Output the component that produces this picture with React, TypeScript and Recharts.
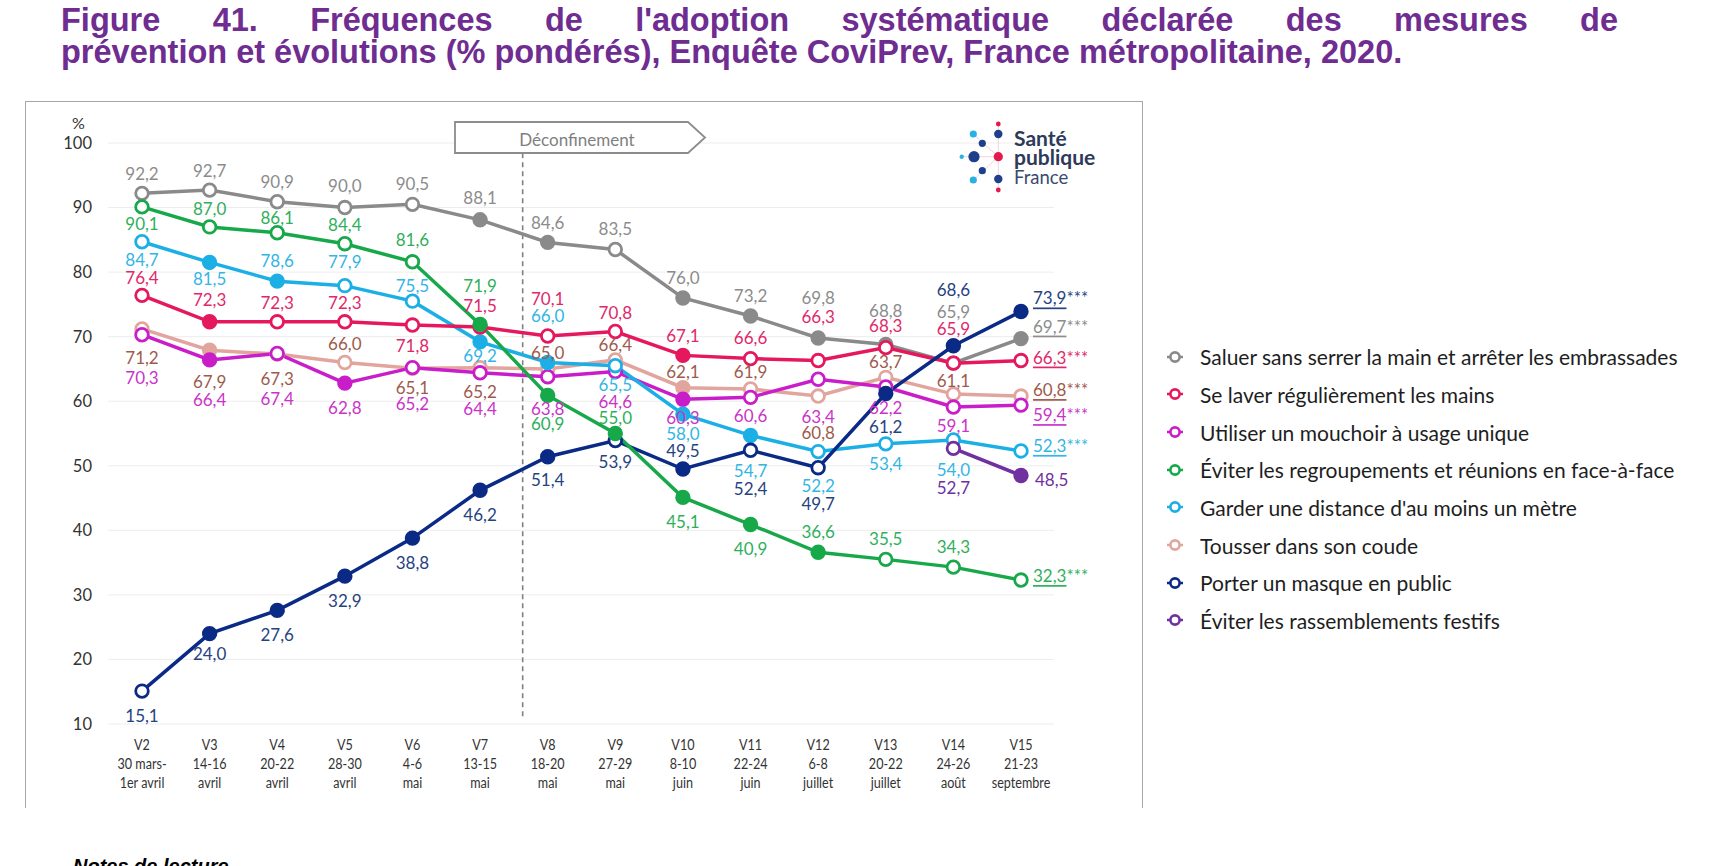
import React from "react";
import {
  LineChart,
  Line,
  XAxis,
  YAxis,
  CartesianGrid,
  ReferenceLine,
  LabelList,
} from "recharts";

// vagues de l'enquête
const weeks = ["V2", "V3", "V4", "V5", "V6", "V7", "V8", "V9", "V10", "V11", "V12", "V13", "V14", "V15"];
const dates1 = ["30 mars-", "14-16", "20-22", "28-30", "4-6", "13-15", "18-20", "27-29", "8-10", "22-24", "6-8", "20-22", "24-26", "21-23"];
const dates2 = ["1er avril", "avril", "avril", "avril", "mai", "mai", "mai", "mai", "juin", "juin", "juillet", "juillet", "août", "septembre"];
const yTicks = [10, 20, 30, 40, 50, 60, 70, 80, 90, 100];

// % pondérés
const saluer = [92.2, 92.7, 90.9, 90.0, 90.5, 88.1, 84.6, 83.5, 76.0, 73.2, 69.8, 68.8, 65.9, 69.7];
const laver = [76.4, 72.3, 72.3, 72.3, 71.8, 71.5, 70.1, 70.8, 67.1, 66.6, 66.3, 68.3, 65.9, 66.3];
const mouchoir = [70.3, 66.4, 67.4, 62.8, 65.2, 64.4, 63.8, 64.6, 60.3, 60.6, 63.4, 62.2, 59.1, 59.4];
const regroupements = [90.1, 87.0, 86.1, 84.4, 81.6, 71.9, 60.9, 55.0, 45.1, 40.9, 36.6, 35.5, 34.3, 32.3];
const distance = [84.7, 81.5, 78.6, 77.9, 75.5, 69.2, 66.0, 65.5, 58.0, 54.7, 52.2, 53.4, 54.0, 52.3];
const coude = [71.2, 67.9, 67.3, 66.0, 65.1, 65.2, 65.0, 66.4, 62.1, 61.9, 60.8, 63.7, 61.1, 60.8];
const masque = [15.1, 24.0, 27.6, 32.9, 38.8, 46.2, 51.4, 53.9, 49.5, 52.4, 49.7, 61.2, 68.6, 73.9];
const festifs = [null, null, null, null, null, null, null, null, null, null, null, null, 52.7, 48.5];

// points pleins (différence significative)
const saluerFilled = [0, 0, 0, 0, 0, 1, 1, 0, 1, 1, 1, 1, 1, 1];
const laverFilled = [0, 1, 0, 0, 0, 0, 0, 0, 1, 0, 0, 0, 0, 0];
const mouchoirFilled = [0, 1, 0, 1, 0, 0, 0, 0, 1, 0, 0, 0, 0, 0];
const regroupFilled = [0, 0, 0, 0, 0, 1, 1, 1, 1, 1, 1, 0, 0, 0];
const distanceFilled = [0, 1, 1, 0, 0, 1, 1, 0, 1, 1, 0, 0, 0, 0];
const coudeFilled = [0, 1, 0, 0, 0, 0, 0, 0, 1, 0, 0, 0, 0, 0];
const masqueFilled = [0, 1, 1, 1, 1, 1, 1, 0, 1, 0, 0, 1, 1, 1];
const festifsFilled = [0, 0, 0, 0, 0, 0, 0, 0, 0, 0, 0, 0, 0, 1];

// décalage vertical des étiquettes (px)
const saluerDy = [-20, -20, -20, -22, -21, -22, -20, -21, -20, -21, -40, -34, -52, -13];
const laverDy = [-18, -22, -19, -19, 20, -21, -38, -19, -20, -21, -44, -22, -35, -4];
const mouchoirDy = [43, 40, 45, 24, 36, 36, 32, 30, 18, 18, 37, 20, 18, 9];
const regroupDy = [17, -18, -15, -19, -22, -39, 28, -16, 24, 24, -21, -21, -21, -5];
const distanceDy = [18, 16, -21, -24, -16, 14, -47, 19, 19, 35, 34, 20, 30, -6];
const coudeDy = [29, 31, 24, -19, 19, 24, -16, -15, -16, -17, 36, -16, -14, -7];
const masqueDy = [24, 20, 24, 24, 24, 24, 23, 21, -19, 38, 36, 33, -56, -14];
const festifsDy = [0, 0, 0, 0, 0, 0, 0, 0, 0, 0, 0, 0, 39, 4];

type Serie = {
  key: string;
  name: string;
  values: (number | null)[];
  filled: number[];
  dy: number[];
  line: string;
  text: string;
  stars: boolean;
};

const series: Serie[] = [
  { key: "saluer", name: "Saluer sans serrer la main et arrêter les embrassades", values: saluer, filled: saluerFilled, dy: saluerDy, line: "#8A8A8A", text: "#8C8C8C", stars: true },
  { key: "laver", name: "Se laver régulièrement les mains", values: laver, filled: laverFilled, dy: laverDy, line: "#E5185D", text: "#E0286A", stars: true },
  { key: "mouchoir", name: "Utiliser un mouchoir à usage unique", values: mouchoir, filled: mouchoirFilled, dy: mouchoirDy, line: "#C91DC9", text: "#C934C9", stars: true },
  { key: "regroupements", name: "Éviter les regroupements et réunions en face-à-face", values: regroupements, filled: regroupFilled, dy: regroupDy, line: "#17A84A", text: "#2FAF5C", stars: true },
  { key: "distance", name: "Garder une distance d'au moins un mètre", values: distance, filled: distanceFilled, dy: distanceDy, line: "#1CAFE5", text: "#33B5E5", stars: true },
  { key: "coude", name: "Tousser dans son coude", values: coude, filled: coudeFilled, dy: coudeDy, line: "#E2A59D", text: "#9E5A4C", stars: true },
  { key: "masque", name: "Porter un masque en public", values: masque, filled: masqueFilled, dy: masqueDy, line: "#0A2A86", text: "#26437F", stars: true },
  { key: "festifs", name: "Éviter les rassemblements festifs", values: festifs, filled: festifsFilled, dy: festifsDy, line: "#7030A0", text: "#7030A0", stars: false },
];

const drawOrder = ["coude", "saluer", "mouchoir", "distance", "laver", "festifs", "masque", "regroupements"];

const rows = weeks.map((w, i) => {
  const r: any = { idx: i, week: w };
  series.forEach((s) => (r[s.key] = s.values[i]));
  return r;
});

const fmt = (v: number) => v.toFixed(1).replace(".", ",");
const FONT = "Lato, 'Open Sans', sans-serif";

const makeDot = (s: Serie) => (p: any) => {
  const { cx, cy, index } = p;
  const k = `${s.key}-dot-${index}`;
  if (cx == null || cy == null || s.values[index] == null) return <g key={k} />;
  const full = s.filled[index] === 1;
  return (
    <circle key={k} cx={cx} cy={cy} r={6.3} fill={full ? s.line : "#fff"} stroke={s.line} strokeWidth={2.8} />
  );
};

const makeLabel = (s: Serie) => (p: any) => {
  const index = p.index;
  const value = s.values[index];
  const x = p.x ?? p.viewBox?.x;
  const y = p.y ?? p.viewBox?.y;
  if (value == null || x == null || y == null) return null;
  const dy = s.dy[index];
  if (index === weeks.length - 1) {
    return (
      <text
        key={`${s.key}-lbl-${index}`}
        x={x + (s.stars ? 12 : 14)}
        y={y + dy}
        textAnchor="start"
        dominantBaseline="central"
        fill={s.text}
        fontSize={17}
        fontFamily={FONT}
      >
        <tspan textDecoration={s.stars ? "underline" : undefined} style={{ textDecoration: s.stars ? "underline" : "none" }}>
          {fmt(value)}
        </tspan>
        {s.stars ? <tspan>***</tspan> : null}
      </text>
    );
  }
  return (
    <text
      key={`${s.key}-lbl-${index}`}
      x={x}
      y={y + dy}
      textAnchor="middle"
      dominantBaseline="central"
      fill={s.text}
      fontSize={17}
      fontFamily={FONT}
    >
      {fmt(value)}
    </text>
  );
};

const XTick = ({ x, y, payload }: any) => {
  const i = payload.value;
  return (
    <g transform={`translate(${x},${y})`}>
      <text textAnchor="middle" fontSize={15} fill="#333" fontFamily={FONT} transform="scale(0.84,1)">
        <tspan x={0} y={20}>{weeks[i]}</tspan>
        <tspan x={0} y={39}>{dates1[i]}</tspan>
        <tspan x={0} y={58}>{dates2[i]}</tspan>
      </text>
    </g>
  );
};

const LegendMarker = ({ color }: { color: string }) => (
  <svg width={18} height={16} style={{ display: "block" }}>
    <line x1={1} y1={8} x2={17} y2={8} stroke={color} strokeWidth={2.5} />
    <circle cx={9} cy={8} r={4.6} fill="#fff" stroke={color} strokeWidth={2.6} />
  </svg>
);

const titleStyle: React.CSSProperties = {
  position: "absolute",
  left: 61,
  fontFamily: "'Liberation Sans', Arial, sans-serif",
  fontWeight: "bold",
  fontSize: 32.5,
  lineHeight: "34px",
  color: "#6F2C91",
};

const App = () => {
  const byKey = (k: string) => series.find((s) => s.key === k)!;
  return (
    <div style={{ position: "absolute", left: 0, top: 0, width: 1726, height: 866, overflow: "hidden", background: "#fff" }}>
      <div style={{ ...titleStyle, top: 2.5, width: 1557, textAlign: "justify", textAlignLast: "justify" }}>
        Figure 41. Fréquences de l'adoption systématique déclarée des mesures de
      </div>
      <div style={{ ...titleStyle, top: 34.5, whiteSpace: "nowrap" }}>
        prévention et évolutions (% pondérés), Enquête CoviPrev, France métropolitaine, 2020.
      </div>

      <div
        style={{
          position: "absolute",
          left: 25,
          top: 101,
          width: 1116,
          height: 706,
          borderTop: "1.5px solid #A6A6A6",
          borderLeft: "1.5px solid #A6A6A6",
          borderRight: "1.5px solid #A6A6A6",
        }}
      />

      <div style={{ position: "absolute", left: 0, top: 0 }}>
        <LineChart width={1726} height={830} data={rows} margin={{ top: 143, right: 672, bottom: 16, left: 48 }}>
          <CartesianGrid vertical={false} stroke="#EDEDED" strokeWidth={1} />
          <XAxis
            dataKey="idx"
            type="number"
            domain={[0, weeks.length - 1]}
            ticks={weeks.map((_, i) => i)}
            interval={0}
            padding={{ left: 34, right: 33 }}
            axisLine={false}
            tickLine={false}
            tickMargin={0}
            height={90}
            tick={<XTick />}
          />
          <YAxis
            type="number"
            domain={[10, 100]}
            ticks={yTicks}
            width={60}
            axisLine={false}
            tickLine={false}
            tickMargin={10}
            tick={{ fill: "#333", fontSize: 16.5, fontFamily: FONT }}
          />
          <ReferenceLine
            segment={[{ x: 5.63, y: 98.4 }, { x: 5.63, y: 11.1 }]}
            stroke="#808080"
            strokeWidth={1.6}
            strokeDasharray="5 4"
          />
          {drawOrder.map((k) => {
            const s = byKey(k);
            return (
              <Line
                key={s.key}
                type="linear"
                dataKey={s.key}
                stroke={s.line}
                strokeWidth={3.5}
                dot={makeDot(s)}
                activeDot={false}
                isAnimationActive={false}
              />
            );
          })}
          {drawOrder.map((k) => {
            const s = byKey(k);
            return (
              <Line
                key={`lbl-${s.key}`}
                type="linear"
                dataKey={s.key}
                stroke="none"
                dot={false}
                activeDot={false}
                isAnimationActive={false}
              >
                <LabelList dataKey={s.key} content={makeLabel(s)} />
              </Line>
            );
          })}
        </LineChart>
      </div>

      <div style={{ position: "absolute", left: 72, top: 113, fontFamily: FONT, fontSize: 16, color: "#333" }}>%</div>

      <svg width={1726} height={866} style={{ position: "absolute", left: 0, top: 0, pointerEvents: "none" }}>
        <polygon points="455,122 688,122 705,137.5 688,153 455,153" fill="#fff" stroke="#8C8C8C" strokeWidth={1.8} />
        <text x={577} y={139} textAnchor="middle" dominantBaseline="central" fontFamily={FONT} fontSize={17} fill="#7F7F7F">
          Déconfinement
        </text>

        <g>
          <line x1={998.3} y1={124} x2={998.3} y2={190} stroke="#F2D3DD" strokeWidth={1} />
          <line x1={961.7} y1={156.7} x2={998.3} y2={156.7} stroke="#F2D3DD" strokeWidth={1} />
          <line x1={973.3} y1={134} x2={998.3} y2={156.7} stroke="#F2D3DD" strokeWidth={1} />
          <line x1={973.3} y1={180} x2={998.3} y2={156.7} stroke="#F2D3DD" strokeWidth={1} />
          <circle cx={998.3} cy={124} r={2.4} fill="#E4194E" />
          <circle cx={973.3} cy={134} r={3.6} fill="#29B1E4" />
          <circle cx={998.3} cy={134} r={4.2} fill="#1E3F8A" />
          <circle cx={982.3} cy={143.3} r={3.6} fill="#1E3F8A" />
          <circle cx={961.7} cy={156.7} r={2.2} fill="#29B1E4" />
          <circle cx={974} cy={156.7} r={5.6} fill="#1E3F8A" />
          <circle cx={998.3} cy={156.7} r={4.6} fill="#E4194E" />
          <circle cx={982.3} cy={170.7} r={3.6} fill="#1E3F8A" />
          <circle cx={973.3} cy={180} r={3.6} fill="#29B1E4" />
          <circle cx={998.3} cy={179} r={4.2} fill="#1E3F8A" />
          <circle cx={998.3} cy={190} r={2.4} fill="#E4194E" />
          <text x={1014} y={146} fontFamily={FONT} fontWeight="bold" fontSize={21} fill="#2D3A5A">Santé</text>
          <text x={1014} y={164.5} fontFamily={FONT} fontWeight="bold" fontSize={21} fill="#2D3A5A">publique</text>
          <text x={1014} y={184} fontFamily={FONT} fontSize={18.5} fill="#3B4A70">France</text>
        </g>
      </svg>

      <div style={{ position: "absolute", left: 1166, top: 338 }}>
        {series.map((s) => (
          <div key={s.key} style={{ display: "flex", alignItems: "center", height: 37.66 }}>
            <LegendMarker color={s.line} />
            <span style={{ marginLeft: 16, fontFamily: FONT, fontSize: 21, color: "#1E1E1E", whiteSpace: "nowrap" }}>
              {s.name}
            </span>
          </div>
        ))}
      </div>

      <div
        style={{
          position: "absolute",
          left: 73,
          top: 856,
          fontFamily: "'Liberation Sans', Arial, sans-serif",
          fontWeight: "bold",
          fontStyle: "italic",
          fontSize: 20,
          lineHeight: "20px",
          color: "#000",
          whiteSpace: "nowrap",
        }}
      >
        Notes de lecture
      </div>
    </div>
  );
};

export default App;
